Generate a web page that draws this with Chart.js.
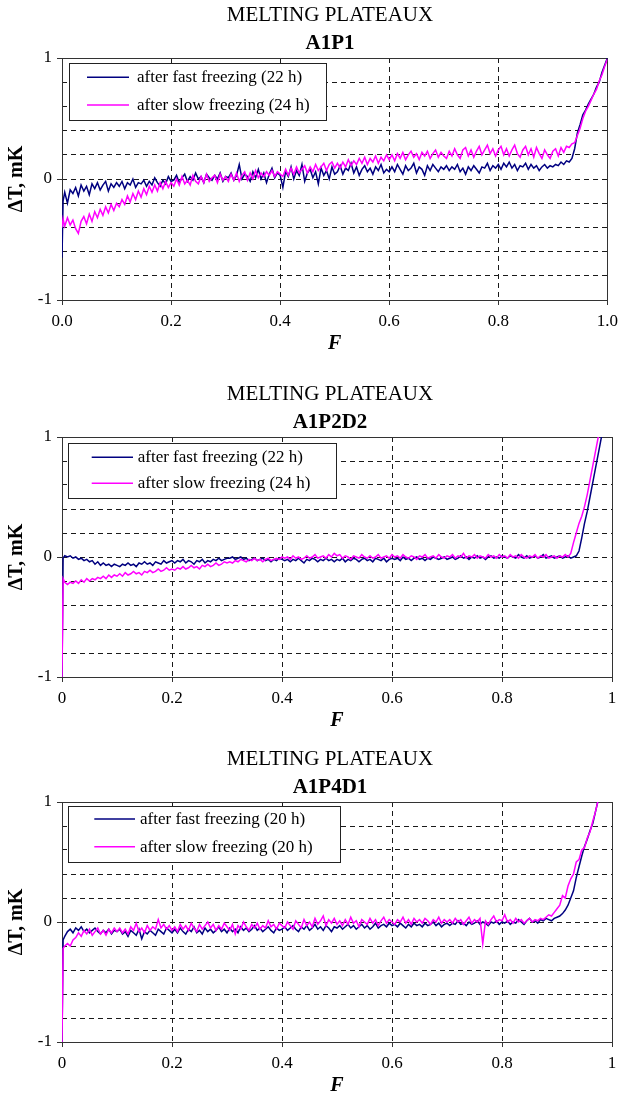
<!DOCTYPE html>
<html>
<head>
<meta charset="utf-8">
<script src="https://cdn.jsdelivr.net/npm/chart.js@4.4.1/dist/chart.umd.min.js"></script>
<style>
html,body{margin:0;padding:0;background:#fff;width:624px;height:1095px;overflow:hidden;}
.box{position:absolute;left:0;width:624px;}
canvas{display:block;}
</style>
</head>
<body>
<div class="box" style="top:0px;height:366px"><canvas id="c1"></canvas></div>
<div class="box" style="top:366px;height:370px"><canvas id="c2"></canvas></div>
<div class="box" style="top:736px;height:370px"><canvas id="c3"></canvas></div>
<script>
// ---------- DATA ----------
const TITLE = 'MELTING PLATEAUX';
const SUBTITLES = ['A1P1', 'A1P2D2', 'A1P4D1'];
const X_TITLE = 'F';
const Y_TITLE = '\u0394T, mK';
const LEGEND_1 = ['after fast freezing (22 h)', 'after slow freezing (24 h)'];
const LEGEND_2 = ['after fast freezing (22 h)', 'after slow freezing (24 h)'];
const LEGEND_3 = ['after fast freezing (20 h)', 'after slow freezing (20 h)'];
const X_TICKS = [0, 0.2, 0.4, 0.6, 0.8, 1];
const Y_TICK_LABELS = [-1, 0, 1];

// fraction melted F (shared abscissa)
const F = [
 0, 0.002, 0.005, 0.01, 0.015, 0.02, 0.025, 0.03, 0.035, 0.04, 0.045, 0.05, 0.055, 0.06, 0.065, 0.07, 0.075, 0.08, 0.085, 0.09, 0.095, 0.1,
 0.105, 0.11, 0.115, 0.12, 0.125, 0.13, 0.135, 0.14, 0.145, 0.15, 0.155, 0.16, 0.165, 0.17, 0.175, 0.18, 0.185, 0.19, 0.195, 0.2,
 0.205, 0.21, 0.215, 0.22, 0.225, 0.23, 0.235, 0.24, 0.245, 0.25, 0.255, 0.26, 0.265, 0.27, 0.275, 0.28, 0.285, 0.29, 0.295, 0.3,
 0.305, 0.31, 0.315, 0.32, 0.325, 0.33, 0.335, 0.34, 0.345, 0.35, 0.355, 0.36, 0.365, 0.37, 0.375, 0.38, 0.385, 0.39, 0.395, 0.4,
 0.405, 0.41, 0.415, 0.42, 0.425, 0.43, 0.435, 0.44, 0.445, 0.45, 0.455, 0.46, 0.465, 0.47, 0.475, 0.48, 0.485, 0.49, 0.495, 0.5,
 0.505, 0.51, 0.515, 0.52, 0.525, 0.53, 0.535, 0.54, 0.545, 0.55, 0.555, 0.56, 0.565, 0.57, 0.575, 0.58, 0.585, 0.59, 0.595, 0.6,
 0.605, 0.61, 0.615, 0.62, 0.625, 0.63, 0.635, 0.64, 0.645, 0.65, 0.655, 0.66, 0.665, 0.67, 0.675, 0.68, 0.685, 0.69, 0.695, 0.7,
 0.705, 0.71, 0.715, 0.72, 0.725, 0.73, 0.735, 0.74, 0.745, 0.75, 0.755, 0.76, 0.765, 0.77, 0.775, 0.78, 0.785, 0.79, 0.795, 0.8,
 0.805, 0.81, 0.815, 0.82, 0.825, 0.83, 0.835, 0.84, 0.845, 0.85, 0.855, 0.86, 0.865, 0.87, 0.875, 0.88, 0.885, 0.89, 0.895, 0.9,
 0.905, 0.91, 0.915, 0.92, 0.925, 0.93, 0.935, 0.94, 0.945, 0.95, 0.955, 0.96, 0.965, 0.97, 0.975, 0.98, 0.985, 0.99, 0.995, 1.0
];

// A1P1
const A1P1_FAST = [
 -0.65, -0.18, -0.11, -0.2, -0.09, -0.12, -0.07, -0.14, -0.05, -0.1, -0.06, -0.13, -0.04, -0.08, -0.03, -0.09, -0.05, -0.02, -0.1, -0.04, -0.07, -0.03,
 -0.06, -0.02, -0.08, -0.03, -0.05, 0.0, -0.07, -0.03, -0.04, -0.01, -0.06, -0.02, -0.05, 0.01, -0.03, -0.06, -0.01, -0.04, 0.02, -0.02,
 -0.01, 0.03, -0.03, 0.01, 0.04, -0.02, 0.02, -0.01, 0.05, 0.0, 0.02, -0.03, 0.04, 0.01, -0.01, 0.03, 0.0, 0.05, -0.02, 0.02,
 0.01, 0.05, -0.01, 0.03, 0.12, 0.0, 0.04, 0.02, -0.02, 0.06, 0.01, 0.08, 0.0, 0.05, -0.03, 0.04, 0.09, 0.01, 0.05, 0.03,
 -0.07, 0.06, 0.02, 0.1, 0.0, 0.07, 0.03, 0.12, -0.02, 0.05, 0.08, 0.01, 0.06, -0.04, 0.09, 0.03, 0.07, 0.0, 0.1, 0.04,
 0.06, 0.11, 0.04, 0.09, 0.07, 0.13, 0.05, 0.1, 0.03, 0.08, 0.11, 0.06, 0.09, 0.04, 0.1, 0.07, 0.12, 0.05, 0.08, 0.06,
 0.1, 0.06, 0.12, 0.08, 0.04, 0.11, 0.07, 0.09, 0.13, 0.05, 0.1, 0.08, 0.03, 0.11, 0.07, 0.12, 0.09, 0.06, 0.1, 0.08,
 0.11, 0.07, 0.1, 0.08, 0.12, 0.06, 0.09, 0.04, 0.1, 0.07, 0.11, 0.08, 0.05, 0.1, 0.09, 0.13, 0.07, 0.11, 0.09, 0.12,
 0.08, 0.13, 0.1, 0.14, 0.09, 0.12, 0.07, 0.11, 0.1, 0.13, 0.08, 0.12, 0.09, 0.11, 0.07, 0.1, 0.12, 0.09, 0.11, 0.1,
 0.12, 0.11, 0.14, 0.12, 0.15, 0.14, 0.17, 0.25, 0.38, 0.45, 0.53, 0.57, 0.62, 0.66, 0.7, 0.76, 0.8, 0.88, 0.94, 1.0
];
const A1P1_SLOW = [
 -0.4, -0.33, -0.39, -0.32, -0.38, -0.34, -0.41, -0.45, -0.35, -0.31, -0.37, -0.29, -0.35, -0.27, -0.32, -0.25, -0.3, -0.23, -0.28, -0.21, -0.26, -0.2,
 -0.23, -0.17, -0.21, -0.14, -0.19, -0.12, -0.17, -0.1, -0.15, -0.08, -0.13, -0.06, -0.11, -0.05, -0.1, -0.03, -0.08, -0.02, -0.07, -0.03,
 -0.06, 0.0, -0.05, 0.02, -0.04, -0.01, -0.05, 0.03, -0.02, -0.04, 0.02, -0.03, 0.04, -0.02, 0.01, 0.03, -0.03, 0.04, -0.01, 0.02,
 -0.02, 0.04, -0.01, 0.05, -0.02, 0.03, 0.06, -0.01, 0.05, 0.0, 0.07, 0.01, 0.05, 0.02, 0.06, 0.03, 0.07, 0.02, 0.06, 0.04,
 0.02, 0.08, 0.03, 0.09, 0.04, 0.1, 0.05, 0.08, 0.11, 0.05, 0.1, 0.06, 0.12, 0.07, 0.1, 0.13, 0.07, 0.12, 0.14, 0.09,
 0.13, 0.09, 0.14, 0.1, 0.16, 0.11, 0.15, 0.12, 0.17, 0.13, 0.18, 0.12, 0.17, 0.14, 0.19, 0.13, 0.18, 0.15, 0.2, 0.16,
 0.2, 0.15, 0.21, 0.17, 0.22, 0.16, 0.2, 0.23, 0.18, 0.21, 0.16, 0.22, 0.19, 0.23, 0.17, 0.21, 0.24, 0.18, 0.22, 0.19,
 0.17, 0.23, 0.19, 0.25, 0.2, 0.17, 0.24, 0.26, 0.19, 0.24, 0.18, 0.23, 0.27, 0.2, 0.24, 0.28, 0.21, 0.25, 0.19, 0.24,
 0.27, 0.2, 0.25, 0.19, 0.24, 0.28, 0.21, 0.18, 0.24, 0.27, 0.2, 0.25, 0.18, 0.26, 0.21, 0.17, 0.24, 0.2, 0.17, 0.23,
 0.25, 0.19, 0.26, 0.22, 0.27, 0.26, 0.29, 0.3, 0.36, 0.42, 0.5, 0.56, 0.6, 0.65, 0.7, 0.74, 0.81, 0.86, 0.93, 0.99
];

// A1P2D2
const A1P2D2_FAST = [
 -1.0, -0.01, 0.01, 0.0, 0.01, -0.01, 0.0, -0.02, -0.01, -0.03, -0.02, -0.04, -0.03, -0.06, -0.04, -0.07, -0.05, -0.07, -0.06, -0.08, -0.06, -0.07,
 -0.08, -0.06, -0.07, -0.05, -0.07, -0.06, -0.08, -0.05, -0.06, -0.04, -0.06, -0.05, -0.07, -0.04, -0.05, -0.06, -0.03, -0.05, -0.04, -0.03,
 -0.05, -0.03, -0.04, -0.02, -0.05, -0.03, -0.04, -0.06, -0.03, -0.04, -0.02, -0.05, -0.03, -0.04, -0.02, -0.03, -0.01, -0.03, -0.02, -0.01,
 -0.01, 0.0, -0.02, -0.01, 0.0, -0.02, -0.01, -0.03, -0.02, -0.01, -0.03, -0.02, -0.01, -0.03, -0.02, -0.04, -0.02, -0.03, -0.01, -0.02,
 -0.03, -0.02, -0.04, -0.02, -0.03, -0.01, -0.03, -0.05, -0.02, -0.03, -0.01, -0.02, -0.04, -0.02, -0.03, -0.01, -0.03, -0.02, -0.04, -0.02,
 -0.03, -0.01, -0.04, -0.02, -0.03, -0.01, -0.02, -0.04, -0.02, -0.01, -0.03, -0.02, -0.04, -0.01, -0.02, -0.03, -0.01, -0.04, -0.02, -0.01,
 -0.02, -0.01, -0.03, 0.0, -0.02, -0.01, -0.03, -0.01, 0.0, -0.02, -0.01, -0.03, -0.01, -0.02, 0.0, -0.01, -0.02, -0.01, 0.0, -0.02,
 -0.01, 0.0, -0.02, -0.01, 0.01, -0.01, 0.0, -0.02, 0.0, -0.01, 0.01, -0.01, 0.0, -0.02, 0.0, 0.01, -0.01, 0.0, -0.01, 0.01,
 0.0, -0.01, 0.01, 0.0, -0.01, 0.02, 0.0, -0.01, 0.01, -0.01, 0.0, 0.01, -0.01, 0.0, 0.02, -0.01, 0.0, 0.01, -0.01, 0.0,
 0.01, -0.01, 0.0, 0.01, -0.01, 0.0, 0.01, 0.05, 0.16, 0.28, 0.38, 0.5, 0.62, 0.74, 0.86, 0.98, 1.1, null, null, null
];
const A1P2D2_SLOW = [
 -1.0, -0.18, -0.21, -0.23, -0.21, -0.22, -0.2, -0.22, -0.19, -0.21, -0.18, -0.2, -0.18, -0.19, -0.17, -0.18, -0.16, -0.18, -0.15, -0.17, -0.15, -0.16,
 -0.14, -0.16, -0.13, -0.15, -0.14, -0.12, -0.14, -0.13, -0.15, -0.12, -0.13, -0.11, -0.13, -0.12, -0.1, -0.12, -0.11, -0.09, -0.11, -0.1,
 -0.11, -0.09, -0.1, -0.08, -0.1, -0.09, -0.07, -0.09, -0.08, -0.1, -0.07, -0.08, -0.06, -0.08, -0.07, -0.05, -0.07, -0.06, -0.04, -0.05,
 -0.04, -0.05, -0.03, -0.04, -0.02, -0.03, -0.04, -0.02, -0.03, -0.01, -0.03, -0.02, -0.04, -0.02, -0.01, -0.03, -0.02, -0.01, -0.02, 0.0,
 -0.01, 0.0, -0.02, 0.01, -0.01, 0.0, -0.02, -0.01, 0.01, -0.01, 0.0, 0.02, -0.01, 0.0, 0.01, -0.01, 0.02, 0.0, 0.03, 0.01,
 0.02, -0.01, 0.01, 0.0, -0.02, 0.01, 0.0, -0.01, 0.02, 0.0, -0.01, 0.01, -0.01, 0.0, 0.02, -0.01, 0.0, 0.01, -0.01, 0.02,
 0.0, 0.01, -0.01, 0.02, 0.0, -0.01, 0.01, 0.0, -0.02, 0.01, 0.0, 0.02, -0.01, 0.0, 0.01, -0.01, 0.02, 0.0, -0.01, 0.01,
 0.0, 0.02, -0.01, 0.01, 0.0, 0.03, -0.01, 0.01, 0.0, 0.02, -0.01, 0.01, 0.0, -0.01, 0.02, 0.0, 0.01, -0.01, 0.02, 0.0,
 0.01, -0.01, 0.02, 0.0, 0.01, -0.01, 0.02, 0.0, -0.01, 0.01, 0.0, 0.02, -0.01, 0.01, 0.0, 0.02, -0.01, 0.0, 0.01, -0.01,
 0.01, 0.0, 0.02, 0.0, 0.03, 0.12, 0.2, 0.28, 0.34, 0.42, 0.52, 0.64, 0.76, 0.88, 1.0, 1.12, null, null, null, null
];

// A1P4D1
const A1P4D1_FAST = [
 -1.0, -0.15, -0.12, -0.08, -0.06, -0.09, -0.05, -0.07, -0.04, -0.08, -0.06, -0.09, -0.07, -0.05, -0.08, -0.1, -0.07, -0.09, -0.06, -0.1, -0.07, -0.08,
 -0.06, -0.1, -0.08, -0.12, -0.07, -0.09, -0.11, -0.06, -0.14, -0.08, -0.1, -0.07, -0.09, -0.11, -0.06, -0.08, -0.1, -0.05, -0.07, -0.09,
 -0.06, -0.09, -0.05, -0.08, -0.1, -0.06, -0.08, -0.04, -0.09, -0.07, -0.1, -0.05, -0.08, -0.06, -0.09, -0.07, -0.04, -0.08, -0.06, -0.09,
 -0.05, -0.08, -0.06, -0.09, -0.04, -0.07, -0.05, -0.08, -0.06, -0.03, -0.07, -0.05, -0.08, -0.06, -0.04, -0.07, -0.09, -0.05, -0.07, -0.06,
 -0.04, -0.07, -0.05, -0.03, -0.06, -0.08, -0.04, -0.06, -0.03, -0.07, -0.05, -0.02, -0.06, -0.04, -0.07, -0.03, -0.05, -0.08, -0.04, -0.05,
 -0.03, -0.06, -0.04, -0.02, -0.05, -0.03, -0.06, -0.04, -0.02, -0.05, -0.03, -0.06, -0.04, -0.01, -0.05, -0.03, -0.02, -0.04, -0.01, -0.03,
 -0.02, -0.04, -0.01, -0.03, -0.05, -0.02, -0.04, -0.01, -0.03, -0.02, -0.04, -0.01, -0.03, -0.02, 0.0, -0.03, -0.01, -0.04, -0.02, -0.01,
 -0.03, -0.01, -0.02, 0.01, -0.02, -0.01, -0.03, 0.0, -0.02, -0.01, 0.01, -0.02, 0.0, -0.01, -0.03, 0.0, -0.01, 0.01, -0.02, 0.0,
 -0.01, 0.01, -0.02, 0.0, -0.01, 0.02, 0.0, -0.02, 0.01, 0.03, 0.0, 0.01, -0.01, 0.02, 0.01, 0.03, 0.02, 0.01, 0.03, 0.04,
 0.05, 0.07, 0.1, 0.14, 0.2, 0.26, 0.37, 0.46, 0.55, 0.63, 0.69, 0.76, 0.82, 0.92, 1.02, null, null, null, null, null
];
const A1P4D1_SLOW = [
 -1.0, -0.22, -0.2, -0.18, -0.2, -0.15, -0.13, -0.09, -0.12, -0.07, -0.1, -0.06, -0.11, -0.08, -0.05, -0.1, -0.07, -0.11, -0.06, -0.09, -0.05, -0.08,
 -0.05, -0.09, -0.06, -0.1, -0.04, -0.07, -0.01, -0.08, -0.05, -0.09, -0.03, -0.07, -0.04, -0.06, 0.02, -0.05, -0.02, -0.06, -0.03, -0.07,
 -0.04, -0.08, -0.02, -0.06, -0.03, -0.07, -0.01, -0.05, -0.08, -0.02, -0.06, -0.03, 0.0, -0.05, -0.02, -0.07, -0.03, -0.06, -0.01, -0.04,
 -0.07, -0.02, -0.1, -0.03, -0.06, 0.0, -0.04, -0.07, -0.02, -0.05, -0.01, -0.06, -0.03, -0.05, 0.01, -0.04, -0.02, -0.06, -0.01, -0.03,
 -0.05, 0.0, -0.03, -0.06, 0.01, -0.02, -0.05, 0.02, -0.03, 0.0, -0.04, 0.03, -0.02, 0.01, 0.05, -0.03, 0.02, -0.01, 0.03, -0.02,
 0.01, -0.03, 0.02, -0.02, 0.04, -0.01, 0.01, -0.04, 0.02, 0.0, -0.02, 0.03, -0.01, 0.02, -0.03, 0.01, 0.04, -0.01, 0.02, 0.0,
 -0.02, 0.02, 0.0, 0.04, -0.01, 0.02, -0.02, 0.03, 0.0, 0.02, -0.01, 0.03, 0.01, -0.02, 0.02, 0.0, 0.04, -0.01, 0.02, 0.0,
 0.02, -0.01, 0.03, 0.0, 0.02, -0.02, 0.01, 0.04, -0.01, 0.02, 0.0, 0.03, -0.18, 0.01, -0.02, 0.02, 0.05, 0.0, 0.02, 0.01,
 0.06, 0.0, 0.02, -0.01, 0.03, 0.0, 0.02, -0.01, 0.01, 0.03, 0.0, 0.02, 0.01, 0.03, 0.02, 0.04, 0.06, 0.05, 0.08, 0.11,
 0.14, 0.22, 0.2, 0.3, 0.36, 0.4, 0.5, 0.52, 0.6, 0.62, 0.7, 0.75, 0.84, 0.92, 1.02, null, null, null, null, null
];

// ---------- RENDERING ----------
const FONT = '"Liberation Serif", "Times New Roman", serif';
const FAST_COLOR = '#000080';
const SLOW_COLOR = '#ff00ff';

const decor = {
  id: 'decor',
  beforeDatasetsDraw(chart) {
    const ctx = chart.ctx, a = chart.chartArea;
    ctx.save();
    const L = Math.round(a.left) + 0.5, T = Math.round(a.top) + 0.5;
    const R = Math.round(a.right) + 0.5, B = Math.round(a.bottom) + 0.5;
    ctx.strokeStyle = '#333';
    ctx.lineWidth = 1;
    ctx.strokeRect(L, T, R - L, B - T);
    ctx.restore();
  },
  afterDatasetsDraw(chart, args, o) {
    const ctx = chart.ctx, a = chart.chartArea;
    ctx.save();
    // legend box
    const lg = o.legend;
    ctx.fillStyle = '#fff';
    ctx.fillRect(lg.x, lg.y, lg.w, lg.h);
    ctx.strokeStyle = '#222';
    ctx.lineWidth = 1;
    ctx.strokeRect(Math.round(lg.x) + 0.5, Math.round(lg.y) + 0.5, Math.round(lg.w), Math.round(lg.h));
    chart.data.datasets.forEach((ds, i) => {
      const y = lg.rows[i];
      ctx.strokeStyle = ds.borderColor;
      ctx.lineWidth = 1.4;
      ctx.beginPath();
      ctx.moveTo(lg.lx1, y);
      ctx.lineTo(lg.lx2, y);
      ctx.stroke();
      ctx.fillStyle = '#000';
      ctx.font = '17px ' + FONT;
      ctx.textAlign = 'left';
      ctx.textBaseline = 'middle';
      ctx.fillText(ds.label, lg.tx, y + 0.5);
    });
    // headings
    ctx.fillStyle = '#000';
    ctx.textAlign = 'center';
    ctx.textBaseline = 'alphabetic';
    ctx.font = '21px ' + FONT;
    ctx.fillText(o.title, o.cx, a.top - 37);
    ctx.font = 'bold 21px ' + FONT;
    ctx.fillText(o.subtitle, o.cx, a.top - 9);
    ctx.restore();
  }
};

function pts(vals) {
  return F.map((f, i) => ({x: f, y: vals[i]}));
}

function isInt(v) { return Math.abs(v - Math.round(v)) < 1e-6; }

function makeChart(cfg) {
  const cv = document.getElementById(cfg.id);
  cv.width = 624; cv.height = cfg.H;
  cv.style.width = '624px'; cv.style.height = cfg.H + 'px';
  return new Chart(cv, {
    type: 'line',
    data: {
      datasets: [
        {label: cfg.labels[0], data: pts(cfg.fast), borderColor: FAST_COLOR, borderWidth: 1.5, pointRadius: 0, tension: 0, order: 1, clip: 0},
        {label: cfg.labels[1], data: pts(cfg.slow), borderColor: SLOW_COLOR, borderWidth: 1.5, pointRadius: 0, tension: 0, order: 0, clip: 0}
      ]
    },
    options: {
      responsive: false,
      devicePixelRatio: 1,
      animation: false,
      events: [],
      layout: {padding: {top: cfg.top, left: 0, right: 12, bottom: 0}},
      plugins: {
        legend: {display: false},
        tooltip: {enabled: false},
        decor: {title: TITLE, subtitle: cfg.subtitle, cx: 330, legend: cfg.legend}
      },
      scales: {
        x: {
          type: 'linear', min: 0, max: 1,
          afterBuildTicks: s => { s.ticks = X_TICKS.map(v => ({value: v})); },
          afterFit: s => { s.height = cfg.H - cfg.bottom; },
          ticks: {
            callback: cfg.xfmt, autoSkip: false, maxRotation: 0,
            color: '#000', padding: 6, font: {family: FONT, size: 17}
          },
          grid: {color: '#1a1a1a', lineWidth: 1, tickLength: 5, tickColor: '#333'},
          border: {display: false, dash: [5, 4]},
          title: {
            display: true, text: X_TITLE, color: '#000',
            font: {family: FONT, size: 20, weight: 'bold', style: 'italic'},
            padding: {top: 0, bottom: cfg.fPad}
          }
        },
        y: {
          type: 'linear', min: -1, max: 1,
          ticks: {
            stepSize: 0.2, autoSkip: false, color: '#000', padding: 5,
            font: {family: FONT, size: 17},
            callback: v => (isInt(v) && Y_TICK_LABELS.includes(Math.round(v))) ? String(Math.round(v)) : ''
          },
          afterFit: s => { s.width = 62; },
          grid: {
            color: '#1a1a1a', lineWidth: 1, tickLength: 5,
            tickColor: c => (c.tick && isInt(c.tick.value)) ? '#333' : 'rgba(0,0,0,0)'
          },
          border: {display: false, dash: [5, 4]},
          title: {
            display: true, text: Y_TITLE, color: '#000',
            font: {family: FONT, size: 20, weight: 'bold'},
            padding: {top: 5, bottom: 0}
          }
        }
      }
    },
    plugins: [decor]
  });
}

const fmt1 = v => Number(v).toFixed(1);
const fmtG = v => String(Math.round(v * 10) / 10);

makeChart({
  id: 'c1', H: 366, top: 58, bottom: 300, fPad: 10, subtitle: SUBTITLES[0], xfmt: fmt1,
  labels: LEGEND_1, fast: A1P1_FAST, slow: A1P1_SLOW,
  legend: {x: 69, y: 63, w: 257, h: 57, rows: [77.3, 105], lx1: 87, lx2: 129, tx: 137}
});
makeChart({
  id: 'c2', H: 370, top: 71, bottom: 311, fPad: 3, subtitle: SUBTITLES[1], xfmt: fmtG,
  labels: LEGEND_2, fast: A1P2D2_FAST, slow: A1P2D2_SLOW,
  legend: {x: 68, y: 77, w: 268, h: 55, rows: [91.3, 117.3], lx1: 91.7, lx2: 133, tx: 137.7}
});
makeChart({
  id: 'c3', H: 370, top: 66, bottom: 306, fPad: 8, subtitle: SUBTITLES[2], xfmt: fmtG,
  labels: LEGEND_3, fast: A1P4D1_FAST, slow: A1P4D1_SLOW,
  legend: {x: 68, y: 70, w: 272, h: 56, rows: [83, 110.7], lx1: 94.3, lx2: 135, tx: 140}
});
</script>
</body>
</html>
